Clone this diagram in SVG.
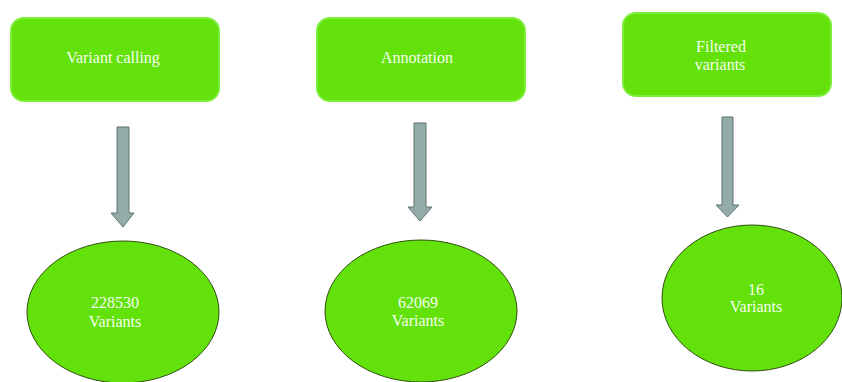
<svg xmlns="http://www.w3.org/2000/svg" width="842" height="382" viewBox="0 0 842 382">
<style>
.box{fill:#62e10a;stroke:#7ded3a;stroke-width:2}
.ell{fill:#62e10a;stroke:#2f4f10;stroke-width:1}
.arr{fill:#93aba9;stroke:#5f7371;stroke-width:1}
text{font-family:"Liberation Serif",serif;font-size:16px;fill:#f6fff0;text-anchor:middle}
</style>
<rect width="842" height="382" fill="#ffffff"/>
<g id="node-variant-calling">
<rect class="box" x="11" y="18" width="208" height="83" rx="13"/>
<text x="113" y="63">Variant calling</text>
</g>
<g id="node-annotation">
<rect class="box" x="317" y="18" width="208" height="83" rx="13"/>
<text x="417" y="63">Annotation</text>
</g>
<g id="node-filtered">
<rect class="box" x="623" y="13" width="208" height="83" rx="13"/>
<text x="721" y="52">Filtered</text>
<text x="720" y="70">variants</text>
</g>
<g id="node-228530">
<ellipse class="ell" cx="123" cy="312" rx="96" ry="71"/>
<text x="115" y="308">228530</text>
<text x="115" y="327">Variants</text>
</g>
<g id="node-62069">
<ellipse class="ell" cx="421" cy="311" rx="96" ry="71"/>
<text x="418" y="308">62069</text>
<text x="418" y="326">Variants</text>
</g>
<g id="node-16">
<ellipse class="ell" cx="752" cy="298" rx="90" ry="73"/>
<text x="756" y="295">16</text>
<text x="756" y="312">Variants</text>
</g>
<g id="connectors">
<path class="arr" d="M117,127 H129 V213 H134 L123,227 L111,213 H117 Z"/>
<path class="arr" d="M414,123 H426 V207 H432 L420,221 L408,207 H414 Z"/>
<path class="arr" d="M722,117 H733 V205 H739 L727.5,217 L716,205 H722 Z"/>
</g>
</svg>
